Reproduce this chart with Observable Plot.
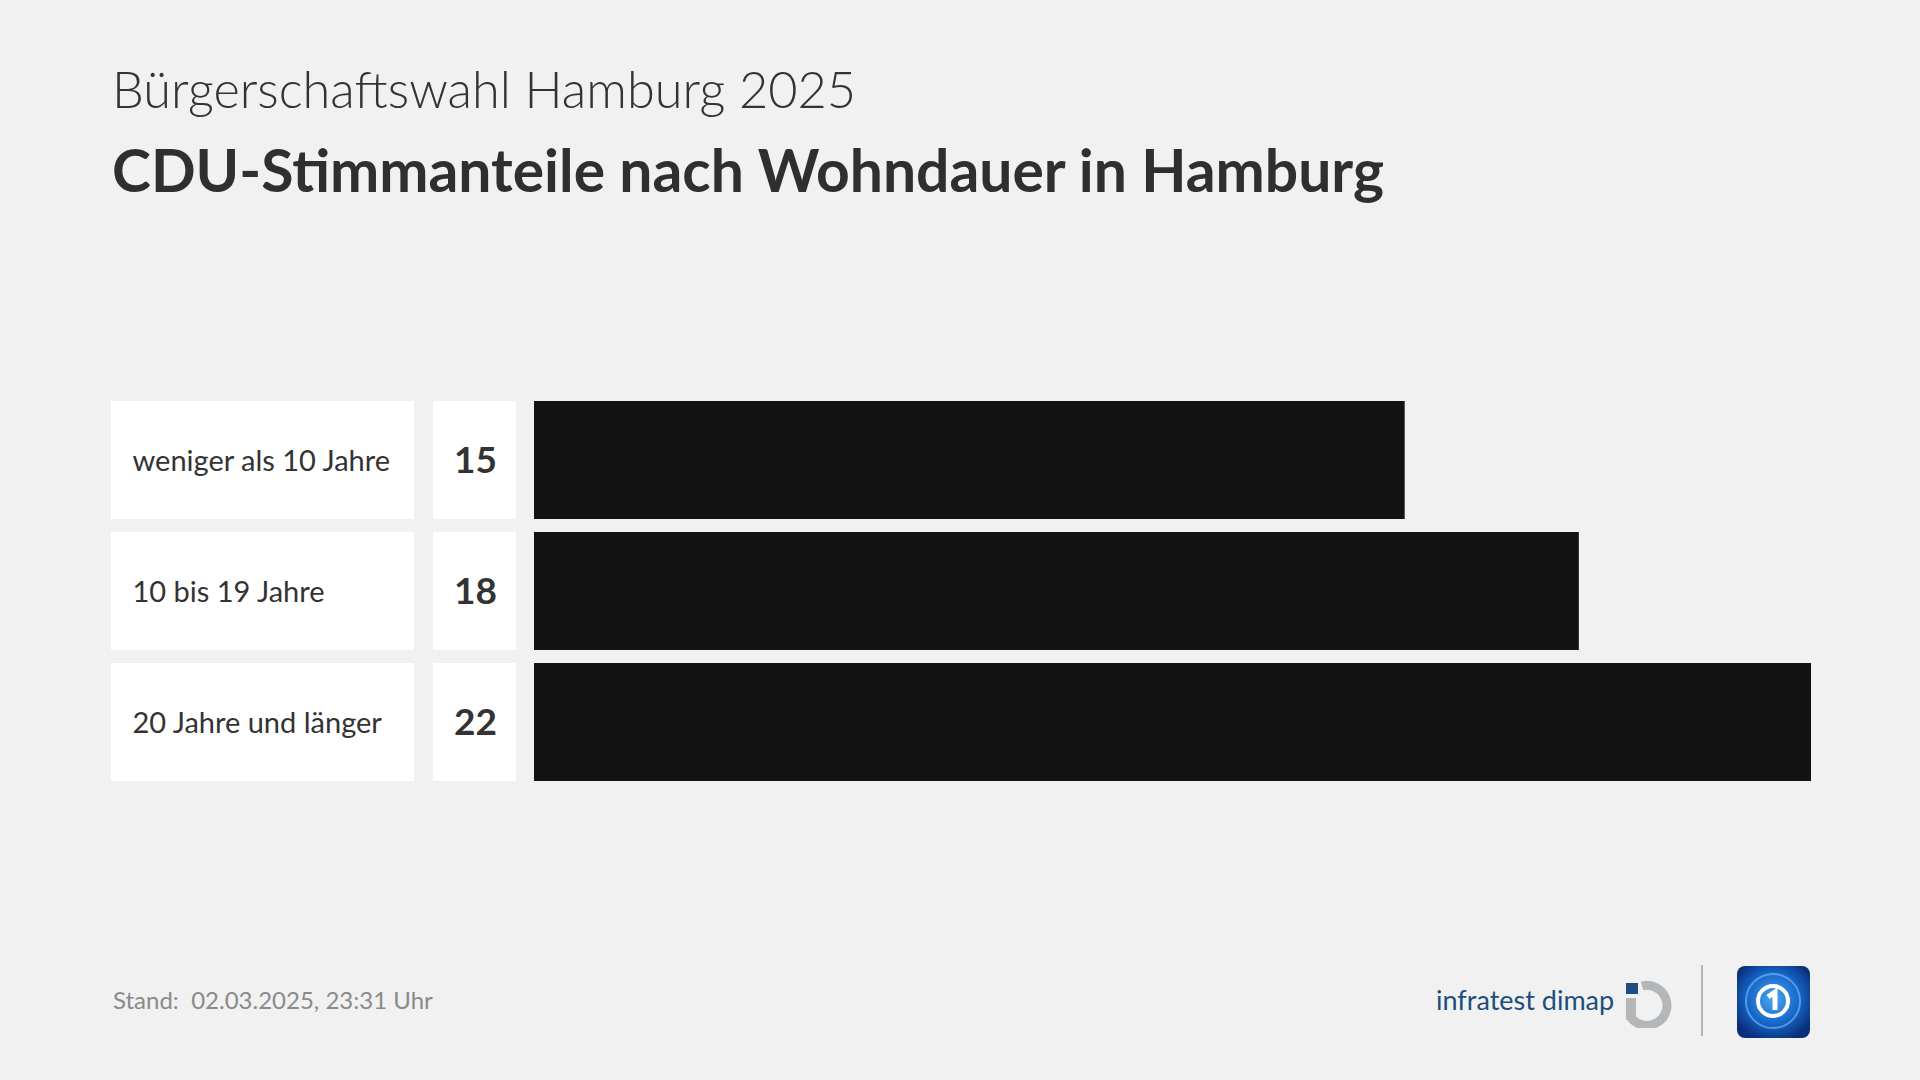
<!DOCTYPE html>
<html>
<head>
<meta charset="utf-8">
<script src="https://cdn.jsdelivr.net/npm/d3@7"></script>
<script src="https://cdn.jsdelivr.net/npm/@observablehq/plot@0.6"></script>
<style>
  html, body { margin: 0; padding: 0; background: #f1f1f1; }
  #page { position: relative; width: 1920px; height: 1080px; background: #f1f1f1; font-family: Lato, "Noto Sans", sans-serif; color: #333; overflow: hidden; }
  #subtitle { position: absolute; left: 112px; top: 58px; font-size: 50.5px; font-weight: 300; color: #333; white-space: nowrap; }
  #title { position: absolute; left: 112px; top: 134px; font-size: 58.8px; font-weight: 700; color: #2f2f2f; white-space: nowrap; }
  #chart { position: absolute; left: 0; top: 380px; }
  #stand { position: absolute; left: 113px; top: 985px; font-size: 24px; color: #8a8a8a; white-space: nowrap; }
  #infratest { position: absolute; left: 1436px; top: 983px; font-size: 27px; color: #1d4e7d; white-space: nowrap; }
  #logo1 { position: absolute; left: 1624px; top: 980px; }
  #divider { position: absolute; left: 1701px; top: 965px; width: 2px; height: 71px; background: #b5b5b5; }
  #ard { position: absolute; left: 1737px; top: 966px; }
</style>
</head>
<body>
<div id="page">
  <div id="subtitle">Bürgerschaftswahl Hamburg 2025</div>
  <div id="title">CDU-Stimmanteile nach Wohndauer in Hamburg</div>
  <div id="chart"></div>
  <div id="stand">Stand:&nbsp; 02.03.2025, 23:31 Uhr</div>
  <div id="infratest">infratest dimap</div>
  <svg id="logo1" width="48" height="48" viewBox="0 0 48 48">
    <rect x="2" y="3" width="12" height="11" fill="#1d4e7d"/>
    <path d="M18 6 A 20 20 0 1 1 6 36" fill="none" stroke="#b4b7b9" stroke-width="9"/>
    <rect x="2" y="18" width="10" height="22" fill="#b4b7b9"/>
  </svg>
  <div id="divider"></div>
  <svg id="ard" width="73" height="72" viewBox="0 0 73 72">
    <defs>
      <radialGradient id="g1" cx="0.5" cy="0.45" r="0.6">
        <stop offset="0" stop-color="#4aa8f0"/>
        <stop offset="0.6" stop-color="#1565c8"/>
        <stop offset="1" stop-color="#0a2f7a"/>
      </radialGradient>
    </defs>
    <rect x="0" y="0" width="73" height="72" rx="8" fill="url(#g1)"/>
    <circle cx="36" cy="35" r="27" fill="none" stroke="#7cc3f5" stroke-width="2" opacity="0.6"/>
    <circle cx="36" cy="35" r="15" fill="none" stroke="#ffffff" stroke-width="4"/>
    <path d="M31 31 L38 26 L38 44" fill="none" stroke="#ffffff" stroke-width="5"/>
  </svg>
</div>
<script>
const categories = ["weniger als 10 Jahre", "10 bis 19 Jahre", "20 Jahre und länger"];
const values = [15, 18, 22];
const data = categories.map((c, i) => ({cat: c, value: values[i]}));

const chart = Plot.plot({
  width: 1920,
  height: 420,
  marginTop: 20,
  marginBottom: 18,
  marginLeft: 534,
  marginRight: 109,
  x: {domain: [0, 22], axis: null},
  y: {domain: categories, axis: null, paddingInner: 0.1, paddingOuter: 0},
  style: {background: "transparent", fontFamily: "Lato, 'Noto Sans', sans-serif", overflow: "visible"},
  marks: [
    Plot.barX(data, {y: "cat", x1: 0, x2: 0, insetLeft: -423, insetRight: 120, fill: "#ffffff"}),
    Plot.barX(data, {y: "cat", x1: 0, x2: 0, insetLeft: -101, insetRight: 18, fill: "#ffffff"}),
    Plot.barX(data, {y: "cat", x: "value", fill: "#121212"}),
    Plot.text(data, {y: "cat", text: "cat", frameAnchor: "left", dx: -402, dy: 1, textAnchor: "start", fontSize: 29, fill: "#333333"}),
    Plot.text(data, {y: "cat", text: d => String(d.value), frameAnchor: "left", dx: -59, dy: 1, textAnchor: "middle", fontSize: 37, fontWeight: 700, fill: "#333333"})
  ]
});
document.getElementById("chart").appendChild(chart);
</script>
</body>
</html>
